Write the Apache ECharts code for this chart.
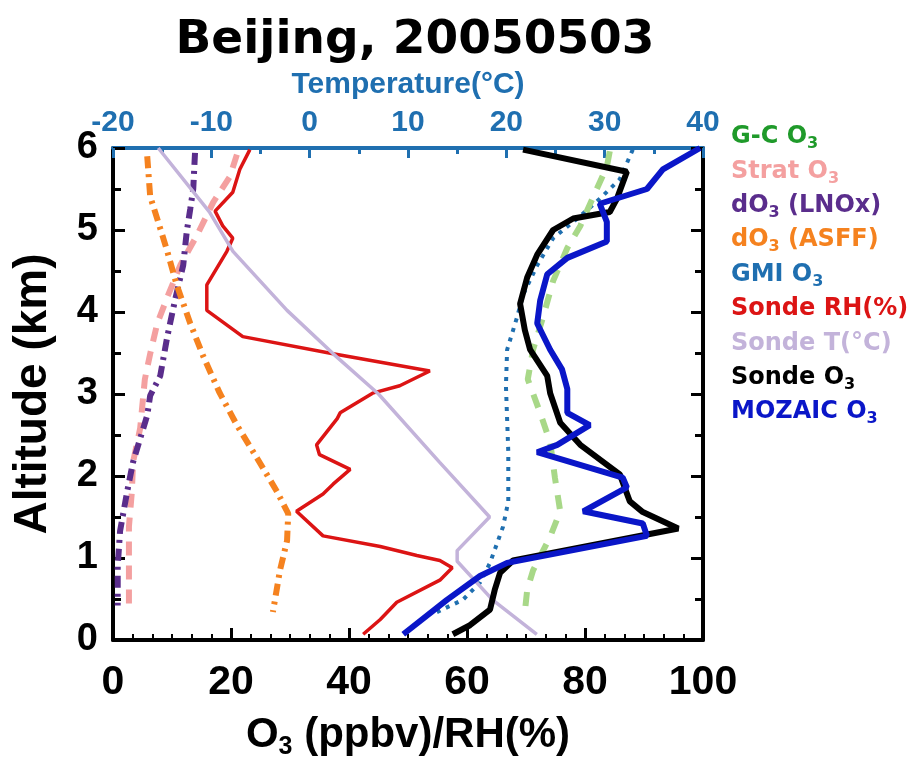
<!DOCTYPE html>
<html>
<head>
<meta charset="utf-8">
<script src="https://cdn.jsdelivr.net/npm/echarts@6/dist/echarts.min.js"></script>
<style>
  html, body { margin: 0; padding: 0; background: #fff; }
  #container { width: 921px; height: 765px; }
</style>
</head>
<body>
<div id="container"></div>
<script>
var dom = document.getElementById("container");
var myChart = echarts.init(dom);

// altitude (km) / value pairs
var gcAlt   = [5.96, 5.77, 5.5, 5.05, 4.78, 4.38, 3.94, 3.54, 3.18, 2.77, 2.41, 1.98, 1.57, 1.26, 0.85, 0.61, 0.34];
var gcO3    = [84.2, 83.7, 82.0, 79.2, 77.0, 74.6, 72.9, 71.2, 70.3, 72.4, 74.1, 74.9, 75.8, 74.1, 71.2, 70.2, 69.8];

var stratAlt = [5.92, 5.65, 5.34, 4.93, 4.57, 4.18, 3.86, 3.49, 3.18, 2.58, 2.17, 1.81, 1.38, 0.9, 0.34];
var stratO3  = [21.0, 19.8, 17.0, 14.2, 11.4, 9.2, 7.5, 6.3, 5.4, 4.6, 3.4, 3.2, 2.7, 2.7, 2.7];

var lnoxAlt = [5.94, 5.5, 5.26, 4.98, 4.57, 4.14, 3.70, 3.22, 2.98, 2.74, 2.17, 1.81, 1.33, 0.9, 0.42];
var lnoxO3  = [13.9, 13.6, 13.1, 12.5, 11.9, 10.5, 9.2, 8.0, 6.3, 5.8, 3.4, 2.4, 1.2, 0.8, 0.8];

var asffAlt = [5.90, 5.41, 5.02, 4.74, 4.33, 3.86, 3.46, 3.01, 2.62, 2.22, 1.81, 1.54, 1.21, 0.85, 0.34];
var asffO3  = [5.8, 6.3, 8.0, 9.2, 10.8, 13.1, 15.3, 18.1, 21.0, 24.4, 27.8, 29.7, 29.5, 28.3, 27.1];

var gmiAlt = [5.98, 5.62, 5.38, 5.17, 4.90, 4.57, 4.21, 3.94, 3.54, 3.10, 2.29, 1.69, 1.38, 0.94, 0.70, 0.49, 0.34];
var gmiO3  = [88.1, 85.9, 82.5, 79.2, 74.6, 71.9, 69.5, 68.5, 66.8, 66.6, 67.0, 67.0, 66.1, 63.9, 62.2, 59.3, 54.9];

var rhAlt = [5.98, 5.74, 5.46, 5.23, 5.05, 4.90, 4.74, 4.33, 4.02, 3.70, 3.49, 3.28, 3.10, 3.01, 2.77, 2.70, 2.38, 2.26, 2.08, 1.90, 1.78, 1.57, 1.27, 1.14, 1.03, 0.97, 0.88, 0.73, 0.46, 0.25, 0.07];
var rh    = [23.2, 21.5, 20.3, 17.3, 18.6, 20.3, 19.3, 15.9, 15.9, 22.0, 37.3, 53.7, 48.6, 44.0, 38.5, 38.0, 34.5, 35.0, 40.2, 37.3, 35.6, 31.1, 35.6, 45.3, 51.5, 55.4, 57.5, 55.4, 48.1, 45.3, 42.4];

var tAlt = [6.0, 5.22, 4.74, 4.02, 3.49, 3.0, 2.17, 1.5, 1.09, 0.96, 0.49, 0.07];
var temp = [-15.4, -10.2, -7.8, -2.3, 2.4, 7.0, 13.2, 18.3, 15.0, 15.0, 18.6, 23.1];

var sondeAlt = [5.98, 5.71, 5.38, 5.22, 5.14, 5.0, 4.70, 4.42, 4.10, 3.78, 3.54, 3.22, 3.01, 2.65, 2.38, 2.02, 1.69, 1.56, 1.36, 0.97, 0.82, 0.61, 0.37, 0.18, 0.07];
var sondeO3  = [69.5, 87.1, 85.4, 84.2, 78.0, 74.6, 71.9, 70.2, 69.0, 69.8, 70.7, 73.6, 74.1, 75.8, 79.2, 85.9, 87.6, 89.8, 95.8, 67.8, 65.6, 64.7, 63.9, 60.5, 57.6];

var mozAlt = [6.0, 5.74, 5.5, 5.32, 5.10, 4.86, 4.66, 4.46, 4.14, 3.86, 3.54, 3.30, 3.06, 2.77, 2.62, 2.38, 2.29, 1.98, 1.86, 1.57, 1.42, 1.27, 0.94, 0.78, 0.49, 0.07];
var mozO3  = [99.5, 93.2, 90.5, 82.5, 83.7, 83.7, 77.0, 73.6, 72.4, 71.9, 74.1, 76.1, 77.0, 77.0, 80.8, 75.3, 71.9, 86.4, 87.1, 79.7, 89.8, 90.5, 66.8, 62.2, 56.6, 49.2];

var legendNames = ['G-C O{s|3}', 'Strat O{s|3}', 'dO{s|3} (LNOx)', 'dO{s|3} (ASFF)', 'GMI O{s|3}',
                   'Sonde RH(%)', 'Sonde T(°C)', 'Sonde O{s|3}', 'MOZAIC O{s|3}'];
var legendColors = ['#1f9a2a', '#f4a0a0', '#5a2d8c', '#f5821f', '#1f6fb0',
                    '#dc1414', '#c3b3da', '#000000', '#0a16c8'];

function pairs(xs, alts) {
    var out = [];
    for (var i = 0; i < xs.length; i++) out.push([xs[i], alts[i]]);
    return out;
}

var legendGraphics = [];
for (var i = 0; i < legendNames.length; i++) {
    legendGraphics.push({
        type: 'text',
        left: 731,
        top: 122 + i * 34.4,
        style: {
            text: legendNames[i],
            fill: legendColors[i],
            font: 'bold 24px "DejaVu Sans"',
            lineHeight: 30,
            rich: {
                s: { fontSize: 16, fontWeight: 'bold', lineHeight: 16, verticalAlign: 'bottom',
                     fontFamily: 'DejaVu Sans', fill: legendColors[i] }
            }
        }
    });
}

var ff = 'Liberation Sans';
var blue = '#1f6fb0';

var option = {
    animation: false,
    backgroundColor: '#fff',
    title: {
        text: 'Beijing, 20050503',
        left: 410,
        textAlign: 'center',
        top: 12,
        textStyle: { fontSize: 47, fontWeight: 'bold', color: '#000', fontFamily: 'DejaVu Sans' }
    },
    grid: { left: 113, right: 218, top: 148, bottom: 117 },
    xAxis: [
        {
            type: 'value', position: 'bottom', min: 0, max: 100, interval: 20,
            name: 'O{s|3} (ppbv)/RH(%)', nameLocation: 'middle', nameGap: 70,
            nameTextStyle: { fontSize: 42, fontWeight: 'bold', color: '#000', fontFamily: ff,
                             lineHeight: 50, rich: { s: { fontSize: 25, fontWeight: 'bold', lineHeight: 25, verticalAlign: 'bottom', fontFamily: ff } } },
            axisLine: { show: true, onZero: false, lineStyle: { color: '#000', width: 4 } },
            axisTick: { inside: true, length: 12, lineStyle: { width: 3 } },
            minorTick: { show: true, splitNumber: 6, length: 6, lineStyle: { color: '#000', width: 2 } },
            axisLabel: { fontSize: 41, fontWeight: 'bold', color: '#000', margin: 22, fontFamily: ff },
            splitLine: { show: false }
        },
        {
            type: 'value', position: 'top', min: -20, max: 40, interval: 10,
            name: 'Temperature(°C)', nameLocation: 'middle', nameGap: 48,
            nameTextStyle: { fontSize: 30, fontWeight: 'bold', color: blue, fontFamily: ff },
            axisLine: { show: true, onZero: false, lineStyle: { color: blue, width: 4 } },
            axisTick: { inside: true, length: 10, lineStyle: { width: 3 } },
            minorTick: { show: true, splitNumber: 2, length: 6, lineStyle: { color: blue, width: 3 } },
            axisLabel: { fontSize: 30, fontWeight: 'bold', color: blue, margin: 10, fontFamily: ff },
            splitLine: { show: false }
        }
    ],
    yAxis: [
        {
            type: 'value', position: 'left', min: 0, max: 6, interval: 1,
            name: 'Altitude (km)', nameLocation: 'middle', nameGap: 57, nameRotate: 90,
            nameTextStyle: { fontSize: 46, fontWeight: 'bold', color: '#000', fontFamily: ff },
            axisLine: { show: true, onZero: false, lineStyle: { color: '#000', width: 4 } },
            axisTick: { inside: true, length: 12, lineStyle: { width: 3 } },
            minorTick: { show: true, splitNumber: 2, length: 8, lineStyle: { color: '#000', width: 3 } },
            axisLabel: { fontSize: 38, fontWeight: 'bold', color: '#000', margin: 15, fontFamily: ff },
            splitLine: { show: false }
        },
        {
            type: 'value', position: 'right', min: 0, max: 6, interval: 1,
            axisLine: { show: true, onZero: false, lineStyle: { color: '#000', width: 4 } },
            axisTick: { inside: true, length: 12, lineStyle: { width: 3 } },
            minorTick: { show: true, splitNumber: 2, length: 8, lineStyle: { color: '#000', width: 3 } },
            axisLabel: { show: false },
            splitLine: { show: false }
        }
    ],
    graphic: legendGraphics,
    series: [
        { name: 'GMI', type: 'line', data: pairs(gmiO3, gmiAlt), symbol: 'none',
          lineStyle: { color: legendColors[4], width: 4, type: [4, 6] } },
        { name: 'G-C', type: 'line', data: pairs(gcO3, gcAlt), symbol: 'none',
          lineStyle: { color: '#a8d888', width: 6, type: [14, 12] } },
        { name: 'Strat', type: 'line', data: pairs(stratO3, stratAlt), symbol: 'none',
          lineStyle: { color: legendColors[1], width: 6, type: [14, 10] } },
        { name: 'LNOx', type: 'line', data: pairs(lnoxO3, lnoxAlt), symbol: 'none',
          lineStyle: { color: legendColors[2], width: 6, type: [12, 6, 3, 6] } },
        { name: 'ASFF', type: 'line', data: pairs(asffO3, asffAlt), symbol: 'none',
          lineStyle: { color: legendColors[3], width: 6, type: [12, 6, 3, 6] } },
        { name: 'RH', type: 'line', data: pairs(rh, rhAlt), symbol: 'none',
          lineStyle: { color: legendColors[5], width: 3.5 } },
        { name: 'T', type: 'line', xAxisIndex: 1, data: pairs(temp, tAlt), symbol: 'none',
          lineStyle: { color: legendColors[6], width: 3.5 } },
        { name: 'Sonde', type: 'line', data: pairs(sondeO3, sondeAlt), symbol: 'none',
          lineStyle: { color: '#000', width: 6 } },
        { name: 'MOZAIC', type: 'line', data: pairs(mozO3, mozAlt), symbol: 'none',
          lineStyle: { color: legendColors[8], width: 6 } }
    ]
};

myChart.setOption(option);
</script>
</body>
</html>
